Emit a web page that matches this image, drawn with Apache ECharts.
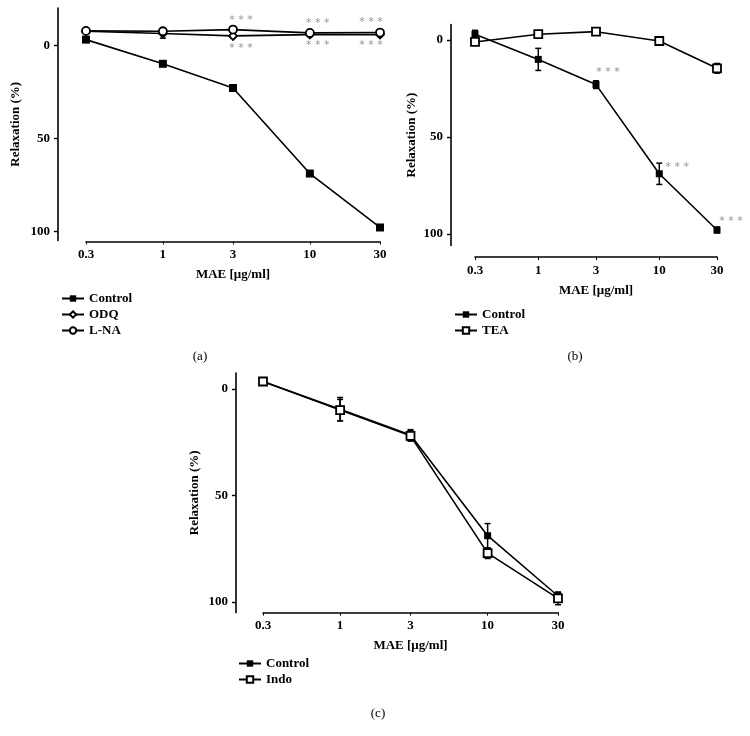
<!DOCTYPE html>
<html>
<head>
<meta charset="utf-8">
<script src="https://cdn.jsdelivr.net/npm/echarts@6/dist/echarts.min.js"></script>
<style>
html,body{margin:0;padding:0;background:#fff;}
#c{width:750px;height:736px;}
</style>
</head>
<body>
<div id="c"></div>
<script>
// ---- data ----
const xTicks = [0.3, 1, 3, 10, 30];
const xTickLabels = ['0.3', '1', '3', '10', '30'];
const yTicks = [0, 50, 100];

// Panel (a)
const aControl = [-3, 10, 23, 69, 98];
const aControlErr = [0.5, 0.5, 1, 1, 1];
const aODQ = [-7.5, -6.3, -5, -5.7, -5.7];
const aODQErr = [1, 2.5, 1, 1, 1];
const aLNA = [-7.7, -7.5, -8.4, -6.6, -6.8];
const aLNAErr = [1, 1, 1, 1, 1];
const aSigUpper = ['', '', '***', '***', '***'];
const aSigLower = ['', '', '***', '***', '***'];

// Panel (b)
const bControl = [-3, 10, 23, 69, 98];
const bControlErr = [2, 5.7, 2, 5.5, 1.5];
const bTEA = [1, -3, -4.3, 0.5, 14.6];
const bTEAErr = [1, 1.5, 0.5, 2, 2.5];
const bSig = ['', '', '***', '***', '***'];

// Panel (c)
const cControl = [-3.5, 9.5, 21.6, 68.9, 97.2];
const cControlErr = [1.5, 5.5, 2.5, 5.7, 1.5];
const cIndo = [-3.5, 9.9, 22, 77.1, 98.3];
const cIndoErr = [1.5, 5, 2.5, 2.5, 3];

// ---- helpers ----
const FONT = 'Liberation Serif';
const L = v => Math.log10(v);
const pts = ys => ys.map((y, i) => [L(xTicks[i]), y]);
const errPts = (ys, es) => ys.map((y, i) => [L(xTicks[i]), y, es[i]]);

function errSeries(idx, ys, es, z) {
  return {
    type: 'custom', xAxisIndex: idx, yAxisIndex: idx, z: z || 2,
    silent: true,
    data: errPts(ys, es),
    renderItem: function (params, api) {
      const x = api.value(0), y = api.value(1), e = api.value(2);
      const t = api.coord([x, y - e]);
      const b = api.coord([x, y + e]);
      const w = 3;
      const st = { stroke: '#000', lineWidth: 1.5 };
      return {
        type: 'group',
        children: [
          { type: 'line', shape: { x1: t[0], y1: t[1], x2: b[0], y2: b[1] }, style: st },
          { type: 'line', shape: { x1: t[0] - w, y1: t[1], x2: t[0] + w, y2: t[1] }, style: st },
          { type: 'line', shape: { x1: b[0] - w, y1: b[1], x2: b[0] + w, y2: b[1] }, style: st }
        ]
      };
    }
  };
}

function lineSeries(idx, name, ys, symbol, size, filled, z) {
  return {
    type: 'line', name: name, xAxisIndex: idx, yAxisIndex: idx, z: z || 3,
    data: pts(ys),
    symbol: symbol, symbolSize: size, showSymbol: true,
    lineStyle: { color: '#000', width: 1.6 },
    itemStyle: { color: filled ? '#000' : '#fff', borderColor: '#000', borderWidth: filled ? 0 : 1.8 },
    emphasis: { disabled: true },
    animation: false
  };
}

function sigSeries(idx, ys, sig, offsets) {
  const data = [];
  ys.forEach((y, i) => {
    if (sig[i]) data.push({ value: [L(xTicks[i]), y, sig[i]], label: { offset: offsets[i] } });
  });
  return {
    type: 'scatter', xAxisIndex: idx, yAxisIndex: idx, symbolSize: 0, silent: true, z: 5,
    data: data,
    label: {
      show: true, position: 'inside', color: '#777', fontFamily: 'DejaVu Sans', fontSize: 11,
      formatter: p => p.data.value[2].split('').join(' ')
    }
  };
}

function xAx(idx, offset, gap) {
  return {
    type: 'value', gridIndex: idx, min: L(0.3), max: L(30), offset: offset,
    name: 'MAE [\u03bcg/ml]', nameLocation: 'middle', nameGap: gap,
    nameTextStyle: { fontFamily: FONT, fontWeight: 'bold', fontSize: 13, color: '#000' },
    axisLine: { onZero: false, lineStyle: { color: '#000', width: 1.6 } },
    axisTick: { show: true, length: 3, customValues: xTicks.map(L), lineStyle: { color: '#000' } },
    axisLabel: {
      customValues: xTicks.map(L), margin: 7,
      fontFamily: FONT, fontWeight: 'bold', fontSize: 13, color: '#000',
      formatter: v => { const i = xTicks.findIndex(t => Math.abs(L(t) - v) < 1e-6); return i >= 0 ? xTickLabels[i] : ''; }
    },
    splitLine: { show: false }
  };
}

function yAx(idx, min, max, offset, gap) {
  return {
    type: 'value', gridIndex: idx, inverse: true, min: min, max: max, offset: offset,
    name: 'Relaxation (%)', nameLocation: 'middle', nameGap: gap, nameRotate: 90,
    nameTextStyle: { fontFamily: FONT, fontWeight: 'bold', fontSize: 13, color: '#000' },
    axisLine: { show: true, onZero: false, lineStyle: { color: '#000', width: 1.6 } },
    axisTick: { show: true, length: 4, customValues: yTicks, lineStyle: { color: '#000', width: 1.4 } },
    axisLabel: { customValues: yTicks, margin: 8, fontFamily: FONT, fontWeight: 'bold', fontSize: 13, color: '#000' },
    splitLine: { show: false }
  };
}

const legendText = { fontFamily: FONT, fontWeight: 'bold', fontSize: 13, color: '#000' };
const panelText = { fontFamily: FONT, fontWeight: 'normal', fontSize: 13, color: '#000' };

const option = {
  animation: false,
  backgroundColor: '#fff',
  grid: [
    { left: 86, right: 370, top: 8, height: 232.5 },
    { left: 475, right: 33, top: 24.5, height: 221 },
    { left: 263, right: 192, top: 373, height: 239.6 }
  ],
  xAxis: [xAx(0, 1, 27), xAx(1, 11.5, 27), xAx(2, 0, 27)],
  yAxis: [yAx(0, -20, 105, 28, 36), yAx(1, -8, 106, 24, 33), yAx(2, -7.5, 105, 27, 35)],
  legend: [
    { orient: 'vertical', left: 56, top: 287, itemWidth: 22, itemHeight: 8, itemGap: 3, textStyle: legendText,
      data: ['Control', 'ODQ', 'L-NA'], selectedMode: false },
    { orient: 'vertical', left: 449, top: 303, itemWidth: 22, itemHeight: 8, itemGap: 3, textStyle: legendText,
      data: ['Control', 'TEA'], selectedMode: false },
    { orient: 'vertical', left: 233, top: 652, itemWidth: 22, itemHeight: 8, itemGap: 3, textStyle: legendText,
      data: ['Control', 'Indo'], selectedMode: false }
  ],
  title: [
    { text: '(a)', left: 195, top: 345, textAlign: 'center', textStyle: panelText },
    { text: '(b)', left: 570, top: 345, textAlign: 'center', textStyle: panelText },
    { text: '(c)', left: 373, top: 702, textAlign: 'center', textStyle: panelText }
  ],
  series: [
    // (a)
    errSeries(0, aControl, aControlErr),
    errSeries(0, aODQ, aODQErr),
    errSeries(0, aLNA, aLNAErr),
    lineSeries(0, 'Control', aControl, 'rect', 8, true),
    lineSeries(0, 'ODQ', aODQ, 'diamond', 8, false),
    lineSeries(0, 'L-NA', aLNA, 'circle', 8, false, 4),
    sigSeries(0, aLNA, aSigUpper, [null, null, [8, -9], [8, -10], [-9, -10]]),
    sigSeries(0, aODQ, aSigLower, [null, null, [8, 12], [8, 11], [-9, 11]]),
    // (b)
    errSeries(1, bControl, bControlErr),
    errSeries(1, bTEA, bTEAErr),
    lineSeries(1, 'Control', bControl, 'rect', 7, true),
    lineSeries(1, 'TEA', bTEA, 'rect', 8, false, 4),
    sigSeries(1, bControl, bSig, [null, null, [12, -12], [18, -7], [14, -9]]),
    // (c)
    errSeries(2, cControl, cControlErr),
    errSeries(2, cIndo, cIndoErr),
    lineSeries(2, 'Control', cControl, 'rect', 7, true),
    lineSeries(2, 'Indo', cIndo, 'rect', 8, false, 4)
  ]
};

const chart = echarts.init(document.getElementById('c'), null, { renderer: 'canvas' });
chart.setOption(option);
</script>
</body>
</html>
